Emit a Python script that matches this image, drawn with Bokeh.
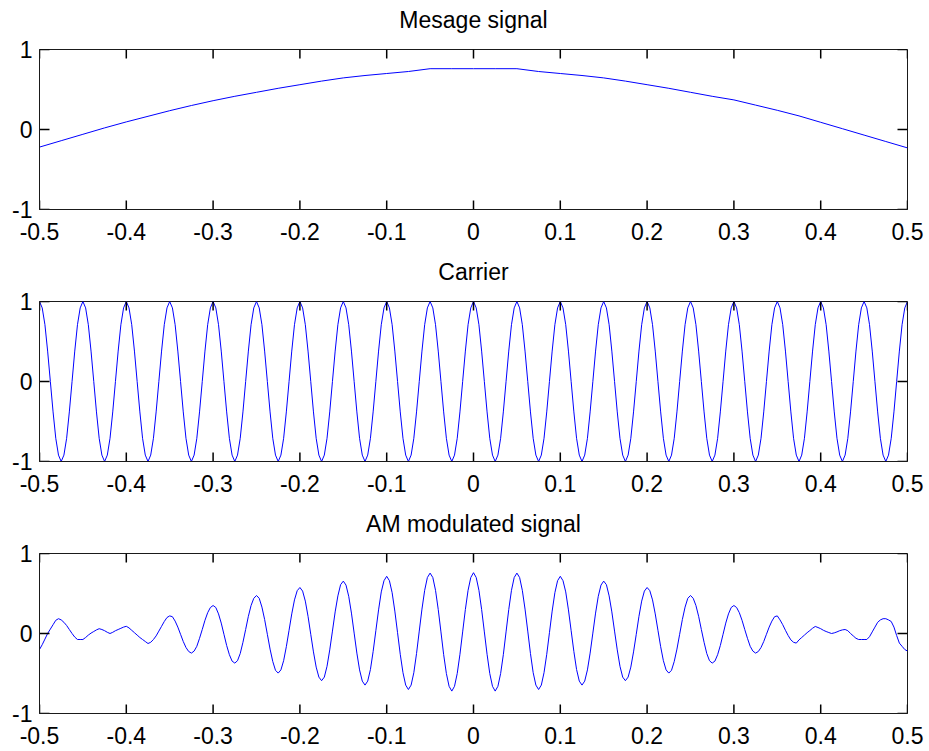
import numpy as np
from bokeh.plotting import figure
from bokeh.models import Range1d, FixedTicker
from bokeh.core.properties import value
from bokeh.layouts import column
from bokeh.embed import file_html
from bokeh.resources import INLINE

# ---------------- data ----------------
titles = ["Mesage signal", "Carrier", "AM modulated signal"]

x_ticks = [-0.5, -0.4, -0.3, -0.2, -0.1, 0.0, 0.1, 0.2, 0.3, 0.4, 0.5]
x_tick_labels = ["-0.5", "-0.4", "-0.3", "-0.2", "-0.1", "0", "0.1", "0.2", "0.3", "0.4", "0.5"]
y_ticks = [-1, 0, 1]
y_tick_labels = ["-1", "0", "1"]

# message signal, sampled every 0.025 s from -0.5 to 0.5
message = [-0.22, -0.14, -0.06, 0.02, 0.095, 0.165, 0.235, 0.30, 0.36, 0.415,
           0.465, 0.515, 0.56, 0.605, 0.645, 0.675, 0.70, 0.725, 0.76, 0.76,
           0.76,
           0.76, 0.76, 0.725, 0.70, 0.675, 0.645, 0.605, 0.56, 0.515, 0.465,
           0.415, 0.37, 0.305, 0.24, 0.17, 0.09, 0.01, -0.07, -0.15, -0.23]

# carrier, sampled every 0.003125 s from -0.5 to 0.5
carrier = [
    1, 0.92, 0.71, 0.38, 0, -0.38, -0.71, -0.92, -1, -0.92, -0.71, -0.38, 0, 0.38, 0.71, 0.92,
    1, 0.92, 0.71, 0.38, 0, -0.38, -0.71, -0.92, -1, -0.92, -0.71, -0.38, 0, 0.38, 0.71, 0.92,
    1, 0.92, 0.71, 0.38, 0, -0.38, -0.71, -0.92, -1, -0.92, -0.71, -0.38, 0, 0.38, 0.71, 0.92,
    1, 0.92, 0.71, 0.38, 0, -0.38, -0.71, -0.92, -1, -0.92, -0.71, -0.38, 0, 0.38, 0.71, 0.92,
    1, 0.92, 0.71, 0.38, 0, -0.38, -0.71, -0.92, -1, -0.92, -0.71, -0.38, 0, 0.38, 0.71, 0.92,
    1, 0.92, 0.71, 0.38, 0, -0.38, -0.71, -0.92, -1, -0.92, -0.71, -0.38, 0, 0.38, 0.71, 0.92,
    1, 0.92, 0.71, 0.38, 0, -0.38, -0.71, -0.92, -1, -0.92, -0.71, -0.38, 0, 0.38, 0.71, 0.92,
    1, 0.92, 0.71, 0.38, 0, -0.38, -0.71, -0.92, -1, -0.92, -0.71, -0.38, 0, 0.38, 0.71, 0.92,
    1, 0.92, 0.71, 0.38, 0, -0.38, -0.71, -0.92, -1, -0.92, -0.71, -0.38, 0, 0.38, 0.71, 0.92,
    1, 0.92, 0.71, 0.38, 0, -0.38, -0.71, -0.92, -1, -0.92, -0.71, -0.38, 0, 0.38, 0.71, 0.92,
    1, 0.92, 0.71, 0.38, 0, -0.38, -0.71, -0.92, -1, -0.92, -0.71, -0.38, 0, 0.38, 0.71, 0.92,
    1, 0.92, 0.71, 0.38, 0, -0.38, -0.71, -0.92, -1, -0.92, -0.71, -0.38, 0, 0.38, 0.71, 0.92,
    1, 0.92, 0.71, 0.38, 0, -0.38, -0.71, -0.92, -1, -0.92, -0.71, -0.38, 0, 0.38, 0.71, 0.92,
    1, 0.92, 0.71, 0.38, 0, -0.38, -0.71, -0.92, -1, -0.92, -0.71, -0.38, 0, 0.38, 0.71, 0.92,
    1, 0.92, 0.71, 0.38, 0, -0.38, -0.71, -0.92, -1, -0.92, -0.71, -0.38, 0, 0.38, 0.71, 0.92,
    1, 0.92, 0.71, 0.38, 0, -0.38, -0.71, -0.92, -1, -0.92, -0.71, -0.38, 0, 0.38, 0.71, 0.92,
    1, 0.92, 0.71, 0.38, 0, -0.38, -0.71, -0.92, -1, -0.92, -0.71, -0.38, 0, 0.38, 0.71, 0.92,
    1, 0.92, 0.71, 0.38, 0, -0.38, -0.71, -0.92, -1, -0.92, -0.71, -0.38, 0, 0.38, 0.71, 0.92,
    1, 0.92, 0.71, 0.38, 0, -0.38, -0.71, -0.92, -1, -0.92, -0.71, -0.38, 0, 0.38, 0.71, 0.92,
    1, 0.92, 0.71, 0.38, 0, -0.38, -0.71, -0.92, -1, -0.92, -0.71, -0.38, 0, 0.38, 0.71, 0.92,
    1]

# AM modulated signal, sampled every 0.003125 s from -0.5 to 0.5
am_signal = [
    # t = -0.5 ... -0.003125
    -0.20, -0.14, -0.07, 0.0, 0.055, 0.11, 0.165, 0.185,
    0.17, 0.14, 0.10, 0.05, 0.0, -0.045, -0.075, -0.075,
    -0.075, -0.05, -0.02, 0.005, 0.025, 0.045, 0.06, 0.05,
    0.035, 0.015, 0.0, 0.015, 0.035, 0.05, 0.065, 0.08,
    0.09, 0.07, 0.04, 0.01, -0.02, -0.05, -0.075, -0.10,
    -0.125, -0.11, -0.075, -0.03, 0.03, 0.09, 0.15, 0.20,
    0.22, 0.21, 0.155, 0.08, -0.01, -0.10, -0.175, -0.225,
    -0.245, -0.22, -0.16, -0.06, 0.05, 0.165, 0.26, 0.325,
    0.35, 0.325, 0.245, 0.13, -0.01, -0.15, -0.265, -0.345,
    -0.37, -0.34, -0.25, -0.11, 0.05, 0.215, 0.35, 0.44,
    0.475, 0.44, 0.33, 0.175, -0.01, -0.195, -0.35, -0.46,
    -0.495, -0.455, -0.34, -0.165, 0.04, 0.245, 0.42, 0.535,
    0.575, 0.53, 0.405, 0.215, -0.01, -0.23, -0.42, -0.545,
    -0.59, -0.545, -0.41, -0.205, 0.03, 0.27, 0.47, 0.61,
    0.655, 0.605, 0.465, 0.255, 0.005, -0.245, -0.455, -0.595,
    -0.645, -0.595, -0.45, -0.225, 0.035, 0.295, 0.52, 0.66,
    0.715, 0.66, 0.51, 0.28, 0.01, -0.26, -0.49, -0.645,
    -0.70, -0.645, -0.49, -0.25, 0.03, 0.305, 0.54, 0.70,
    0.755, 0.70, 0.54, 0.30, 0.02, -0.265, -0.50, -0.66,
    -0.72, -0.66, -0.50, -0.26, 0.02, 0.30, 0.54, 0.70,
    # t = 0 ... 0.5
    0.76, 0.70, 0.54, 0.30, 0.02, -0.26, -0.50, -0.66,
    -0.72, -0.66, -0.50, -0.265, 0.02, 0.30, 0.54, 0.70,
    0.755, 0.70, 0.54, 0.305, 0.03, -0.25, -0.49, -0.645,
    -0.70, -0.645, -0.49, -0.26, 0.01, 0.28, 0.51, 0.66,
    0.715, 0.66, 0.52, 0.295, 0.035, -0.225, -0.45, -0.595,
    -0.645, -0.595, -0.455, -0.245, 0.005, 0.255, 0.465, 0.605,
    0.655, 0.61, 0.47, 0.27, 0.03, -0.205, -0.41, -0.545,
    -0.59, -0.545, -0.42, -0.23, -0.01, 0.215, 0.405, 0.53,
    0.575, 0.535, 0.42, 0.245, 0.04, -0.165, -0.34, -0.455,
    -0.495, -0.46, -0.35, -0.195, -0.01, 0.175, 0.33, 0.44,
    0.475, 0.44, 0.35, 0.215, 0.05, -0.11, -0.25, -0.34,
    -0.37, -0.345, -0.265, -0.15, -0.01, 0.13, 0.245, 0.325,
    0.35, 0.325, 0.26, 0.165, 0.05, -0.06, -0.16, -0.22,
    -0.245, -0.225, -0.175, -0.10, -0.01, 0.08, 0.155, 0.21,
    0.22, 0.17, 0.11, 0.04, -0.025, -0.08, -0.11, -0.12,
    -0.08, -0.05, -0.02, 0.01, 0.037, 0.066, 0.088, 0.075,
    0.06, 0.04, 0.025, 0.012, 0.0, 0.008, 0.02, 0.035,
    0.045, 0.05, 0.035, 0.0, -0.03, -0.06, -0.075, -0.075,
    -0.075, -0.075, -0.04, 0.02, 0.08, 0.14, 0.17, 0.185,
    0.185, 0.17, 0.15, 0.08, -0.025, -0.12, -0.16, -0.20,
    -0.22]

series = [message, carrier, am_signal]

# ---------------- drawing ----------------
FONT = "Liberation Sans"
FS = "23px"
AX_COLOR = "#1a1a1a"
FRAME_W = 868
FRAME_H = 160
TICK_PX_X = 9
TICK_PX_Y = 10
X_MIN, X_MAX = -0.5, 0.5
Y_MIN, Y_MAX = -1.0, 1.0
BORDER_L, BORDER_R = 39, 22
PANEL_TOP = 14


def style_axis(ax, ticks, labels, standoff):
    ax.ticker = FixedTicker(ticks=ticks)
    ax.major_label_overrides = dict(zip(ticks, labels))
    ax.major_tick_in = 0
    ax.major_tick_out = 0
    ax.minor_tick_line_color = None
    ax.axis_line_color = AX_COLOR
    ax.major_label_text_font = FONT
    ax.major_label_text_font_size = FS
    ax.major_label_text_color = "black"
    ax.major_label_standoff = standoff


def make_title_strip(title, height, text_top):
    """A strip holding the subplot title, centred over the box below it."""
    s = figure(width=929, height=height,
               x_range=Range1d(X_MIN, X_MAX), y_range=Range1d(0, height),
               output_backend="svg", toolbar_location=None,
               x_axis_type=None, y_axis_type=None,
               min_border_left=BORDER_L, min_border_right=BORDER_R,
               min_border_top=0, min_border_bottom=0)
    s.grid.visible = False
    s.outline_line_color = None
    s.background_fill_color = "white"
    s.border_fill_color = "white"
    s.text(x=[(X_MIN + X_MAX) / 2], y=[height - text_top], text=[title],
           text_align="center", text_baseline="top",
           text_font=value(FONT), text_font_size=value(FS),
           text_color="black")
    return s


def make_panel(values, height, bottom):
    p = figure(width=929, height=height,
               x_range=Range1d(X_MIN, X_MAX), y_range=Range1d(Y_MIN, Y_MAX),
               output_backend="svg", toolbar_location=None,
               min_border_left=BORDER_L, min_border_right=BORDER_R,
               min_border_top=PANEL_TOP, min_border_bottom=bottom)
    p.grid.visible = False
    p.background_fill_color = "white"
    p.border_fill_color = "white"
    p.outline_line_color = AX_COLOR
    p.outline_line_width = 1

    t = np.linspace(X_MIN, X_MAX, len(values))
    p.line(t, values, line_color="#0000ff", line_width=1)

    for ax in p.xaxis:
        style_axis(ax, x_ticks, x_tick_labels, 13)
    for ax in p.yaxis:
        style_axis(ax, y_ticks, y_tick_labels, 7)

    # inward tick marks on all four sides of the box (MATLAB style)
    dy = TICK_PX_X * (Y_MAX - Y_MIN) / FRAME_H
    dx = TICK_PX_Y * (X_MAX - X_MIN) / FRAME_W
    n = len(x_ticks)
    m = len(y_ticks)
    p.segment(x0=x_ticks, y0=[Y_MIN] * n, x1=x_ticks, y1=[Y_MIN + dy] * n,
              line_color="#000000", line_width=1.5)
    p.segment(x0=x_ticks, y0=[Y_MAX] * n, x1=x_ticks, y1=[Y_MAX - dy] * n,
              line_color="#000000", line_width=1.5)
    p.segment(x0=[X_MIN] * m, y0=y_ticks, x1=[X_MIN + dx] * m, y1=y_ticks,
              line_color="#000000", line_width=1.5)
    p.segment(x0=[X_MAX] * m, y0=y_ticks, x1=[X_MAX - dx] * m, y1=y_ticks,
              line_color="#000000", line_width=1.5)
    return p


t1 = make_title_strip(titles[0], 35, 6)
p1 = make_panel(series[0], PANEL_TOP + FRAME_H + 41, 41)
t2 = make_title_strip(titles[1], 37, 8)
p2 = make_panel(series[1], PANEL_TOP + FRAME_H + 41, 41)
t3 = make_title_strip(titles[2], 37, 8)
p3 = make_panel(series[2], PANEL_TOP + FRAME_H + 38, 38)

layout = column(t1, p1, t2, p2, t3, p3, spacing=0)

open("out.html", "w").write(file_html(layout, INLINE))
